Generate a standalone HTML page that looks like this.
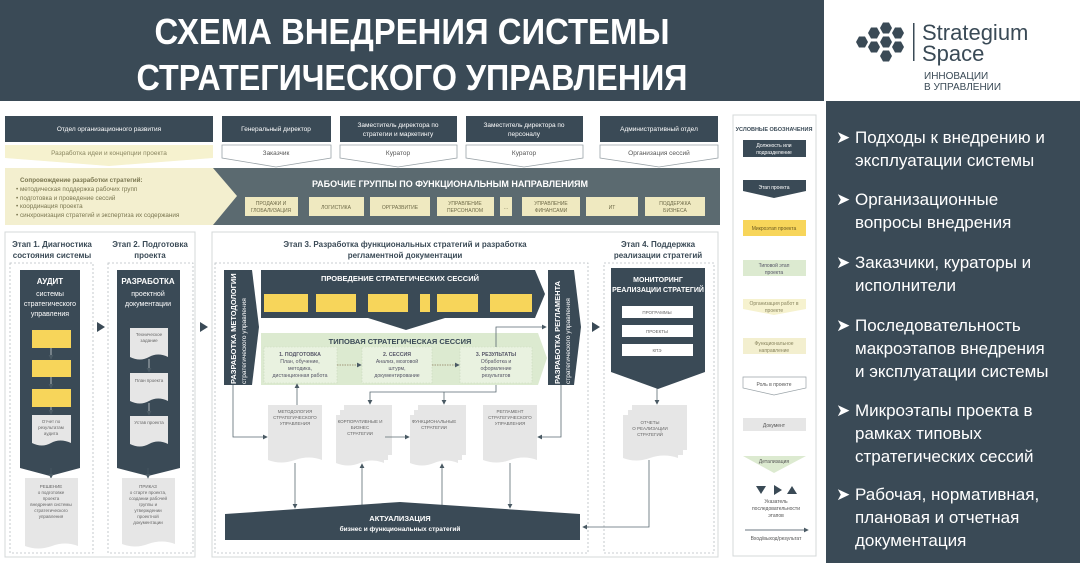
<!DOCTYPE html>
<html><head><meta charset="utf-8"><style>
html,body{margin:0;padding:0;background:#fff;}
svg{display:block;font-family:"Liberation Sans","DejaVu Sans",sans-serif;}
</style></head><body>
<svg width="1080" height="563" viewBox="0 0 1080 563" xmlns="http://www.w3.org/2000/svg">
<defs>
<marker id="ah" markerWidth="6" markerHeight="6" refX="5" refY="3" orient="auto"><path d="M0,0 L6,3 L0,6 z" fill="#4a5a64"/></marker>
</defs>
<rect width="1080" height="563" fill="#fff"/>
<!-- header -->
<rect x="0" y="0" width="824" height="101" fill="#3a4a56"/>
<text x="412" y="44" fill="#fff" font-size="36" font-weight="bold" text-anchor="middle" textLength="515" lengthAdjust="spacingAndGlyphs">СХЕМА ВНЕДРЕНИЯ СИСТЕМЫ</text>
<text x="412" y="90" fill="#fff" font-size="36" font-weight="bold" text-anchor="middle" textLength="551" lengthAdjust="spacingAndGlyphs">СТРАТЕГИЧЕСКОГО УПРАВЛЕНИЯ</text>
<!-- logo -->
<g fill="#3a4a56">
<polygon points="856,42 859,36.5 865,36.5 868,42 865,47.5 859,47.5"/>
<polygon points="868,33 871,27.5 877,27.5 880,33 877,38.5 871,38.5"/>
<polygon points="868,47 871,41.5 877,41.5 880,47 877,52.5 871,52.5"/>
<polygon points="880,28 883,22.5 889,22.5 892,28 889,33.5 883,33.5"/>
<polygon points="880,42 883,36.5 889,36.5 892,42 889,47.5 883,47.5"/>
<polygon points="880,56 883,50.5 889,50.5 892,56 889,61.5 883,61.5"/>
<polygon points="892,33 895,27.5 901,27.5 904,33 901,38.5 895,38.5"/>
<polygon points="892,47 895,41.5 901,41.5 904,47 901,52.5 895,52.5"/>
</g>
<rect x="913" y="23" width="1.5" height="38" fill="#3a4a56"/>
<text x="922" y="40" font-size="22" fill="#3a4a56">Strategium</text>
<text x="922" y="61" font-size="22" fill="#3a4a56">Space</text>
<text x="924" y="79" font-size="10" fill="#3a4a56">ИННОВАЦИИ</text>
<text x="924" y="90" font-size="10" fill="#3a4a56">В УПРАВЛЕНИИ</text>
<!-- right panel -->
<rect x="826" y="101" width="254" height="462" fill="#3a4a56"/>
<g fill="#fff" font-size="17">
<text x="836" y="143">➤</text><text x="855" y="143">Подходы к внедрению и</text><text x="855" y="166">эксплуатации системы</text>
<text x="836" y="205">➤</text><text x="855" y="205">Организационные</text><text x="855" y="228">вопросы внедрения</text>
<text x="836" y="268">➤</text><text x="855" y="268">Заказчики, кураторы и</text><text x="855" y="291">исполнители</text>
<text x="836" y="331">➤</text><text x="855" y="331">Последовательность</text><text x="855" y="354">макроэтапов внедрения</text><text x="855" y="377">и эксплуатации системы</text>
<text x="836" y="416">➤</text><text x="855" y="416">Микроэтапы проекта в</text><text x="855" y="439">рамках типовых</text><text x="855" y="462">стратегических сессий</text>
<text x="836" y="500">➤</text><text x="855" y="500">Рабочая, нормативная,</text><text x="855" y="523">плановая и отчетная</text><text x="855" y="546">документация</text>
</g>
<!-- top row -->
<g fill="#3a4a56">
<rect x="5" y="116" width="208" height="26"/><rect x="222" y="116" width="109" height="26"/><rect x="340" y="116" width="117" height="26"/><rect x="466" y="116" width="117" height="26"/><rect x="600" y="116" width="118" height="26"/>
</g>
<g fill="#fff" font-size="6.5" text-anchor="middle">
<text x="109" y="131">Отдел организационного развития</text>
<text x="276" y="131">Генеральный директор</text>
<text x="398" y="127">Заместитель директора по</text><text x="398" y="136">стратегии и маркетингу</text>
<text x="524" y="127">Заместитель директора по</text><text x="524" y="136">персоналу</text>
<text x="659" y="131">Административный отдел</text>
</g>
<polygon points="5,145 213,145 213,158 109,166 5,158" fill="#f6f2cf"/>
<text x="109" y="155" font-size="6.5" fill="#8a8660" text-anchor="middle">Разработка идеи и концепции проекта</text>
<g fill="#fff" stroke="#9aa3a8" stroke-width="0.8">
<polygon points="222,145 331,145 331,158 276,167 222,158"/>
<polygon points="340,145 457,145 457,158 398,167 340,158"/>
<polygon points="466,145 583,145 583,158 524,167 466,158"/>
<polygon points="600,145 718,145 718,158 659,167 600,158"/>
</g>
<g fill="#555" font-size="6.5" text-anchor="middle">
<text x="276" y="155">Заказчик</text><text x="398" y="155">Куратор</text><text x="524" y="155">Куратор</text><text x="659" y="155">Организация сессий</text>
</g>
<!-- working groups -->
<rect x="213" y="168" width="507" height="57" fill="#5b6a70"/>
<polygon points="5,168 213,168 237,196 213,225 5,225" fill="#f3efcf"/>
<g font-size="6.3" fill="#7a7650">
<text x="20" y="182" font-weight="bold">Сопровождение разработки стратегий:</text>
<text x="16" y="191">•  методическая поддержка рабочих групп</text>
<text x="16" y="200">•  подготовка и проведение сессий</text>
<text x="16" y="208">•  координация проекта</text>
<text x="16" y="217">•  синхронизация стратегий и экспертиза их содержания</text>
</g>
<text x="450" y="187" font-size="9" font-weight="bold" fill="#fff" text-anchor="middle">РАБОЧИЕ ГРУППЫ ПО ФУНКЦИОНАЛЬНЫМ НАПРАВЛЕНИЯМ</text>
<g fill="#efe9c0">
<rect x="245" y="197" width="53" height="19"/><rect x="309" y="197" width="55" height="19"/><rect x="370" y="197" width="60" height="19"/><rect x="437" y="197" width="57" height="19"/><rect x="500" y="197" width="12" height="19"/><rect x="522" y="197" width="58" height="19"/><rect x="586" y="197" width="52" height="19"/><rect x="645" y="197" width="60" height="19"/>
</g>
<g font-size="5" fill="#6e6a48" text-anchor="middle">
<text x="271" y="205">ПРОДАЖИ И</text><text x="271" y="212">ГЛОБАЛИЗАЦИЯ</text>
<text x="336" y="209">ЛОГИСТИКА</text><text x="400" y="209">ОРГРАЗВИТИЕ</text>
<text x="465" y="205">УПРАВЛЕНИЕ</text><text x="465" y="212">ПЕРСОНАЛОМ</text>
<text x="506" y="209">…</text>
<text x="551" y="205">УПРАВЛЕНИЕ</text><text x="551" y="212">ФИНАНСАМИ</text>
<text x="612" y="209">ИТ</text>
<text x="675" y="205">ПОДДЕРЖКА</text><text x="675" y="212">БИЗНЕСА</text>
</g>
<!-- stage containers -->
<rect x="5" y="232" width="190" height="325" fill="#fff" stroke="#d4d8da"/>
<rect x="212" y="232" width="506" height="325" fill="#fff" stroke="#d4d8da"/>
<g fill="none" stroke="#b8bec2" stroke-dasharray="2,2" stroke-width="0.8">
<rect x="10" y="263" width="83" height="290"/><rect x="108" y="263" width="85" height="290"/>
<rect x="215" y="263" width="373" height="290"/><rect x="604" y="263" width="110" height="290"/>
</g>
<g font-size="8" font-weight="bold" fill="#3a4a56" text-anchor="middle">
<text x="52" y="247">Этап 1. Диагностика</text><text x="52" y="258">состояния системы</text>
<text x="150" y="247">Этап 2. Подготовка</text><text x="150" y="258">проекта</text>
<text x="405" y="247">Этап 3. Разработка функциональных стратегий и разработка</text><text x="405" y="258">регламентной документации</text>
<text x="658" y="247">Этап 4. Поддержка</text><text x="658" y="258">реализации стратегий</text>
</g>
<!-- stage arrows -->
<g fill="#3a4a56"><polygon points="97,322 105,327 97,332"/><polygon points="200,322 208,327 200,332"/><polygon points="592,322 600,327 592,332"/></g>
<!-- stage1 -->
<polygon points="20,270 80,270 80,468 50,476 20,468" fill="#3a4a56"/>
<g fill="#fff" text-anchor="middle"><text x="50" y="284" font-size="8" font-weight="bold">АУДИТ</text>
<text x="50" y="296" font-size="7">системы</text><text x="50" y="306" font-size="7">стратегического</text><text x="50" y="316" font-size="7">управления</text></g>
<g fill="#f7d55a"><rect x="32" y="330" width="39" height="18"/><rect x="32" y="360" width="39" height="17"/><rect x="32" y="389" width="39" height="18"/></g>
<g stroke="#cfd4d6" stroke-width="0.8" fill="none" marker-end="url(#ah)"><line x1="51" y1="348" x2="51" y2="359"/><line x1="51" y1="377" x2="51" y2="388"/><line x1="51" y1="407" x2="51" y2="414"/></g>
<path d="M32,415 H71 V443 Q60,438 51,443 Q42,448 32,443 Z" fill="#e6e6e6"/>
<g font-size="4.5" fill="#666" text-anchor="middle"><text x="51" y="423">Отчет по</text><text x="51" y="429">результатам</text><text x="51" y="435">аудита</text></g>
<line x1="51" y1="468" x2="51" y2="478" stroke="#4a5a64" stroke-width="0.8" marker-end="url(#ah)"/>
<path d="M25,478 H78 V546 Q65,541 52,546 Q38,551 25,546 Z" fill="#e6e6e6"/>
<g font-size="4.5" fill="#666" text-anchor="middle"><text x="51" y="488">РЕШЕНИЕ</text><text x="51" y="494">о подготовке</text><text x="51" y="500">проекта</text><text x="51" y="506">внедрения системы</text><text x="51" y="512">стратегического</text><text x="51" y="518">управления</text></g>
<!-- stage2 -->
<polygon points="117,270 180,270 180,468 148,476 117,468" fill="#3a4a56"/>
<g fill="#fff" text-anchor="middle"><text x="148" y="284" font-size="8" font-weight="bold">РАЗРАБОТКА</text>
<text x="148" y="296" font-size="7">проектной</text><text x="148" y="306" font-size="7">документации</text></g>
<g fill="#e6e6e6">
<path d="M130,328 H168 V357 Q158,352 149,357 Q140,362 130,357 Z"/>
<path d="M130,373 H168 V401 Q158,396 149,401 Q140,406 130,401 Z"/>
<path d="M130,416 H168 V444 Q158,439 149,444 Q140,449 130,444 Z"/>
<path d="M122,478 H175 V544 Q162,539 148,544 Q135,549 122,544 Z"/>
</g>
<g stroke="#cfd4d6" stroke-width="0.8" marker-end="url(#ah)"><line x1="149" y1="359" x2="149" y2="372"/><line x1="149" y1="403" x2="149" y2="415"/></g>
<line x1="148" y1="468" x2="148" y2="478" stroke="#4a5a64" stroke-width="0.8" marker-end="url(#ah)"/>
<g font-size="4.5" fill="#666" text-anchor="middle"><text x="149" y="336">Техническое</text><text x="149" y="342">задание</text><text x="149" y="382">План проекта</text><text x="149" y="424">Устав проекта</text>
<text x="148" y="488">ПРИКАЗ</text><text x="148" y="494">о старте проекта,</text><text x="148" y="500">создании рабочей</text><text x="148" y="506">группы и</text><text x="148" y="512">утверждении</text><text x="148" y="518">проектной</text><text x="148" y="524">документации</text></g>
<!-- stage3 -->
<polygon points="224,270 252,270 259,327 252,385 224,385" fill="#3a4a56"/>
<polygon points="548,270 574,270 581,327 574,385 548,385" fill="#3a4a56"/>
<text transform="translate(236,384) rotate(-90)" font-size="7.5" font-weight="bold" fill="#fff">РАЗРАБОТКА МЕТОДОЛОГИИ</text>
<text transform="translate(246,384) rotate(-90)" font-size="6.5" fill="#fff">стратегического управления</text>
<text transform="translate(560,384) rotate(-90)" font-size="7.5" font-weight="bold" fill="#fff">РАЗРАБОТКА РЕГЛАМЕНТА</text>
<text transform="translate(570,384) rotate(-90)" font-size="6.5" fill="#fff">стратегического управления</text>
<polygon points="261,270 535,270 545,294 535,318 261,318" fill="#3a4a56"/>
<text x="400" y="281" font-size="7.5" font-weight="bold" fill="#fff" text-anchor="middle">ПРОВЕДЕНИЕ СТРАТЕГИЧЕСКИХ СЕССИЙ</text>
<g fill="#f7d55a"><rect x="264" y="294" width="44" height="18"/><rect x="316" y="294" width="40" height="18"/><rect x="368" y="294" width="40" height="18"/><rect x="420" y="294" width="10" height="18"/><rect x="437" y="294" width="41" height="18"/><rect x="490" y="294" width="42" height="18"/></g>
<polygon points="368,318 445,318 406,330" fill="#3a4a56"/>
<polygon points="261,333 538,333 547,358 538,385 261,385" fill="#dcead0"/>
<text x="400" y="344" font-size="7.5" font-weight="bold" fill="#3a4a56" text-anchor="middle">ТИПОВАЯ СТРАТЕГИЧЕСКАЯ СЕССИЯ</text>
<g fill="#e9f2e0" stroke="#c9d8bc" stroke-dasharray="1.5,1.5" stroke-width="0.6"><rect x="264" y="347" width="73" height="36"/><rect x="362" y="347" width="70" height="36"/><rect x="460" y="347" width="72" height="36"/></g>
<g font-size="5.2" fill="#556" text-anchor="middle">
<text x="300" y="356" font-weight="bold">1. ПОДГОТОВКА</text><text x="300" y="363">План, обучение,</text><text x="300" y="370">методика,</text><text x="300" y="377">дистанционная работа</text>
<text x="397" y="356" font-weight="bold">2. СЕССИЯ</text><text x="397" y="363">Анализ, мозговой</text><text x="397" y="370">штурм,</text><text x="397" y="377">документирование</text>
<text x="496" y="356" font-weight="bold">3. РЕЗУЛЬТАТЫ</text><text x="496" y="363">Обработка и</text><text x="496" y="370">оформление</text><text x="496" y="377">результатов</text>
</g>
<g stroke="#8a7a5a" stroke-dasharray="1.5,1" stroke-width="0.8" marker-end="url(#ah)"><line x1="337" y1="365" x2="361" y2="365"/><line x1="432" y1="365" x2="459" y2="365"/></g>
<!-- docs stage 3 -->
<g fill="#e6e6e6">
<path d="M268,405 H322 V460 Q309,455 295,460 Q281,465 268,460 Z"/>
<rect x="344" y="405" width="48" height="50"/><rect x="340" y="410" width="48" height="50"/>
<path d="M336,415 H384 V463 Q372,458 360,463 Q348,468 336,463 Z"/>
<rect x="418" y="405" width="48" height="50"/><rect x="414" y="410" width="48" height="50"/>
<path d="M410,415 H458 V463 Q446,458 434,463 Q422,468 410,463 Z"/>
<path d="M483,405 H537 V460 Q524,455 510,460 Q496,465 483,460 Z"/>
</g>
<g font-size="4.5" fill="#666" text-anchor="middle">
<text x="295" y="413">МЕТОДОЛОГИЯ</text><text x="295" y="419">СТРАТЕГИЧЕСКОГО</text><text x="295" y="425">УПРАВЛЕНИЯ</text>
<text x="360" y="423">КОРПОРАТИВНЫЕ И</text><text x="360" y="429">БИЗНЕС</text><text x="360" y="435">СТРАТЕГИИ</text>
<text x="434" y="423">ФУНКЦИОНАЛЬНЫЕ</text><text x="434" y="429">СТРАТЕГИИ</text>
<text x="510" y="413">РЕГЛАМЕНТ</text><text x="510" y="419">СТРАТЕГИЧЕСКОГО</text><text x="510" y="425">УПРАВЛЕНИЯ</text>
</g>
<g fill="none" stroke="#5a6a72" stroke-width="0.8" marker-end="url(#ah)">
<path d="M233,385 V437 H267"/>
<path d="M496,347 V327 H546"/>
<path d="M496,385 V392 H370 V404"/>
<path d="M444,392 V404"/>
<path d="M297,405 V384"/>
<path d="M561,385 V437 H538"/>
<path d="M385,437 H409"/>
<path d="M295,463 V508"/>
<path d="M362,505 V464"/>
<path d="M442,505 V464"/>
<path d="M510,463 V508"/>
<path d="M657,380 V404"/>
<path d="M649,460 V527 H583"/>
</g>
<polygon points="225,514 400,502 580,514 580,540 225,540" fill="#3a4a56"/>
<text x="400" y="521" font-size="7.5" font-weight="bold" fill="#fff" text-anchor="middle">АКТУАЛИЗАЦИЯ</text>
<text x="400" y="531" font-size="6.5" font-weight="bold" fill="#fff" text-anchor="middle">бизнес и функциональных стратегий</text>
<!-- stage4 -->
<polygon points="611,268 705,268 705,372 658,389 611,372" fill="#3a4a56"/>
<text x="658" y="282" font-size="7" font-weight="bold" fill="#fff" text-anchor="middle">МОНИТОРИНГ</text>
<text x="658" y="292" font-size="7" font-weight="bold" fill="#fff" text-anchor="middle">РЕАЛИЗАЦИИ СТРАТЕГИЙ</text>
<g fill="#fff"><rect x="622" y="306" width="71" height="12"/><rect x="622" y="325" width="71" height="12"/><rect x="622" y="344" width="71" height="12"/></g>
<g font-size="4.5" fill="#666" text-anchor="middle"><text x="657" y="314">ПРОГРАММЫ</text><text x="657" y="333">ПРОЕКТЫ</text><text x="657" y="352">КПЭ</text></g>
<g fill="#e6e6e6"><rect x="632" y="405" width="55" height="45"/><rect x="628" y="410" width="55" height="45"/>
<path d="M623,415 H678 V458 Q664,453 650,458 Q636,463 623,458 Z"/></g>
<g font-size="4.5" fill="#666" text-anchor="middle"><text x="650" y="424">ОТЧЕТЫ</text><text x="650" y="430">О РЕАЛИЗАЦИИ</text><text x="650" y="436">СТРАТЕГИЙ</text></g>
<!-- legend -->
<rect x="733" y="115" width="83" height="441" fill="#fff" stroke="#d4d8da"/>
<text x="774" y="131" font-size="5.5" font-weight="bold" fill="#3a4a56" text-anchor="middle">УСЛОВНЫЕ ОБОЗНАЧЕНИЯ</text>
<rect x="743" y="140" width="63" height="17" fill="#3a4a56"/>
<text x="774" y="147" font-size="5" fill="#fff" text-anchor="middle">Должность или</text><text x="774" y="154" font-size="5" fill="#fff" text-anchor="middle">подразделение</text>
<polygon points="743,180 806,180 806,191 774,198 743,191" fill="#3a4a56"/>
<text x="774" y="189" font-size="5" fill="#fff" text-anchor="middle">Этап проекта</text>
<rect x="743" y="220" width="63" height="16" fill="#f7d55a"/>
<text x="774" y="230" font-size="5" fill="#6b5a20" text-anchor="middle">Микроэтап проекта</text>
<rect x="743" y="260" width="63" height="16" fill="#dcead0"/>
<text x="774" y="267" font-size="5" fill="#556" text-anchor="middle">Типовой этап</text><text x="774" y="274" font-size="5" fill="#556" text-anchor="middle">проекта</text>
<polygon points="743,299 806,299 806,309 774,315 743,309" fill="#f6f2cf"/>
<text x="774" y="305" font-size="5" fill="#8a8660" text-anchor="middle">Организация работ в</text><text x="774" y="312" font-size="5" fill="#8a8660" text-anchor="middle">проекте</text>
<rect x="743" y="338" width="63" height="16" fill="#f3efcf"/>
<text x="774" y="345" font-size="5" fill="#8a8660" text-anchor="middle">Функциональное</text><text x="774" y="352" font-size="5" fill="#8a8660" text-anchor="middle">направление</text>
<polygon points="743,377 806,377 806,388 774,395 743,388" fill="#fff" stroke="#9aa3a8" stroke-width="0.7"/>
<text x="774" y="386" font-size="5" fill="#555" text-anchor="middle">Роль в проекте</text>
<rect x="743" y="418" width="63" height="13" fill="#e6e6e6"/>
<text x="774" y="427" font-size="5" fill="#555" text-anchor="middle">Документ</text>
<polygon points="743,456 806,456 774,473" fill="#dcead0"/>
<text x="774" y="463" font-size="5" fill="#555" text-anchor="middle">Детализация</text>
<g fill="#3a4a56"><polygon points="756,486 766,486 761,494"/><polygon points="774,485 782,490 774,495"/><polygon points="787,494 797,494 792,486"/></g>
<g font-size="5" fill="#555" text-anchor="middle"><text x="776" y="503">Указатель</text><text x="776" y="510">последовательности</text><text x="776" y="517">этапов</text></g>
<line x1="745" y1="530" x2="808" y2="530" stroke="#3a4a56" stroke-width="0.8" marker-end="url(#ah)"/>
<text x="776" y="540" font-size="5" fill="#555" text-anchor="middle">Вход/выход/результат</text>
</svg>
</body></html>
